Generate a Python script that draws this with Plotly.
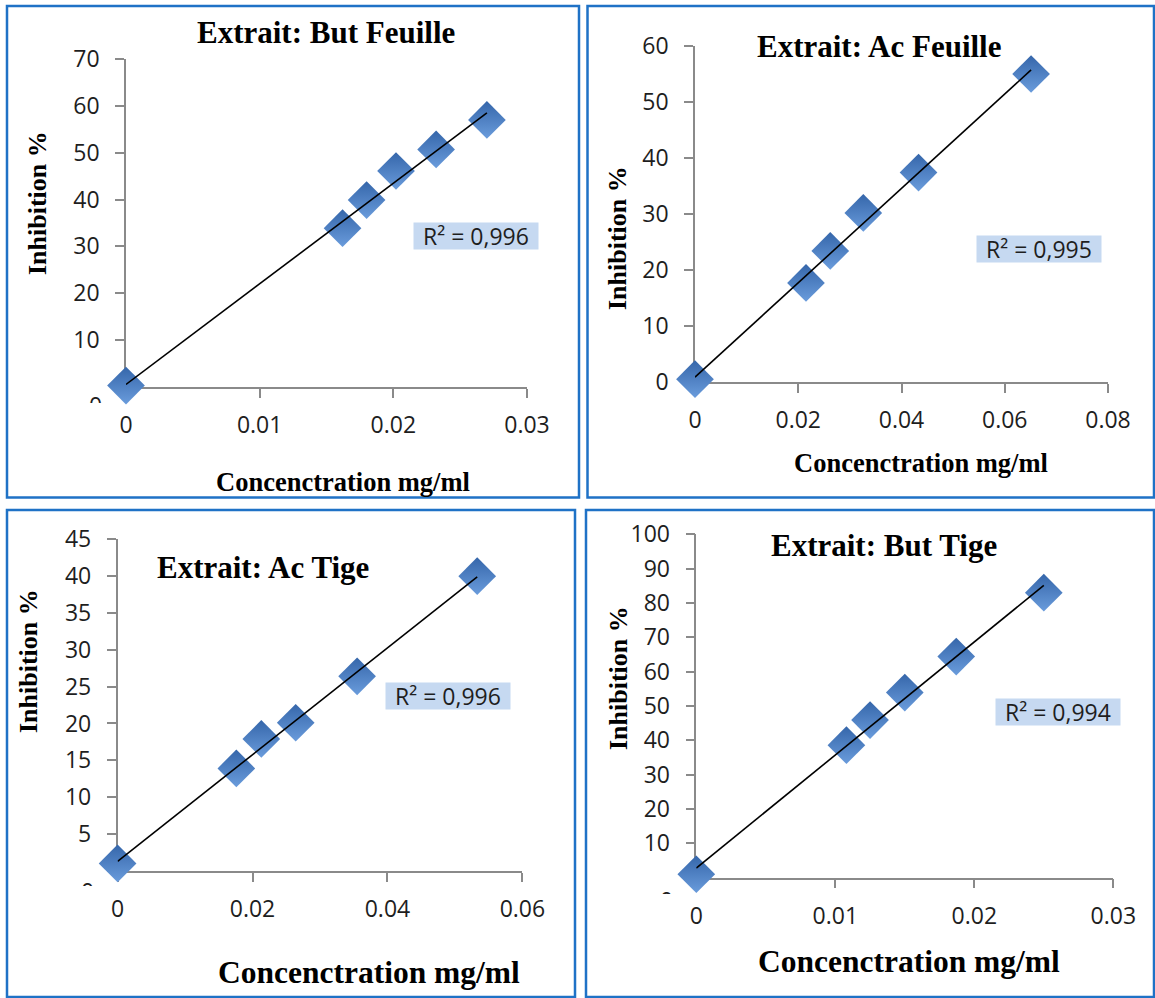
import numpy as np
import plotly.graph_objects as go

W, H = 1155, 998

# ---- data -------------------------------------------------------------
titles = ["Extrait: But Feuille", "Extrait: Ac Feuille", "Extrait: Ac Tige", "Extrait: But Tige"]
r2_labels = ["R² = 0,996", "R² = 0,995", "R² = 0,996", "R² = 0,994"]

but_feuille_conc = [0, 0.0162, 0.0180, 0.0202, 0.0232, 0.0270]
but_feuille_inh = [0.3, 33.9, 39.9, 46.1, 50.7, 57.0]

ac_feuille_conc = [0, 0.0215, 0.0262, 0.0326, 0.0433, 0.0651]
ac_feuille_inh = [0.5, 17.7, 23.4, 30.2, 37.4, 55.0]

ac_tige_conc = [0, 0.0176, 0.0213, 0.0264, 0.0355, 0.0533]
ac_tige_inh = [1.0, 13.9, 17.9, 20.1, 26.4, 40.0]

but_tige_conc = [0, 0.0108, 0.0125, 0.0150, 0.0187, 0.0250]
but_tige_inh = [1.0, 38.6, 45.9, 53.9, 64.4, 83.0]

x_ticks_1 = [0, 0.01, 0.02, 0.03]
x_ticks_2 = [0, 0.02, 0.04, 0.06, 0.08]
x_ticks_3 = [0, 0.02, 0.04, 0.06]
x_ticks_4 = [0, 0.01, 0.02, 0.03]
x_text_1 = ["0", "0.01", "0.02", "0.03"]
x_text_2 = ["0", "0.02", "0.04", "0.06", "0.08"]
x_text_3 = ["0", "0.02", "0.04", "0.06"]
x_text_4 = ["0", "0.01", "0.02", "0.03"]

y_ticks_1 = [0, 10, 20, 30, 40, 50, 60, 70]
y_ticks_2 = [0, 10, 20, 30, 40, 50, 60]
y_ticks_3 = [0, 5, 10, 15, 20, 25, 30, 35, 40, 45]
y_ticks_4 = [0, 10, 20, 30, 40, 50, 60, 70, 80, 90, 100]

panels = [
    dict(x=but_feuille_conc, y=but_feuille_inh, xt=x_ticks_1, xl=x_text_1, yt=y_ticks_1, zero_clipped=True),
    dict(x=ac_feuille_conc, y=ac_feuille_inh, xt=x_ticks_2, xl=x_text_2, yt=y_ticks_2, zero_clipped=False),
    dict(x=ac_tige_conc, y=ac_tige_inh, xt=x_ticks_3, xl=x_text_3, yt=y_ticks_3, zero_clipped=True),
    dict(x=but_tige_conc, y=but_tige_inh, xt=x_ticks_4, xl=x_text_4, yt=y_ticks_4, zero_clipped=True),
]

# ---- layout geometry (pixels) ------------------------------------------
# plot area: left, right, bottom, top
plot_px = [(126, 527, 387, 59), (695, 1108, 382, 46), (117.6, 522.4, 870.8, 539.3), (696.3, 1113.3, 877.7, 534.3)]
frame_px = [(7, 579, 6, 497.5), (587.5, 1154, 6, 497.5), (7, 575, 510, 997), (586, 1154, 510, 997)]
title_px = [(326, 32), (879, 47), (263, 567), (884, 545)]
xtitle_px = [(343, 482, 26.5), (921, 463, 26.5), (369, 972, 31.5), (909, 961, 31.5)]
ytitle_px = [(37, 203), (617, 238), (28, 661), (618, 678)]
r2_px = [(476, 236), (1038.5, 249), (448, 696), (1058, 712)]
# visible top part of the bottom y label: centre x, box top, box height
zero_px = [(95, 388, 14), None, (87, 874, 11), (666, 883, 10)]


def px(x):
    return x / W


def py(y):
    return 1 - y / H


TICK_FONT = dict(family="Open Sans", size=23, color="#1e1e1e")
SERIF_BOLD = "Liberation Serif"
AXIS_GREY = "#8a8a8a"


def text_at(text, x, y, font, **extra):
    return dict(text=text, x=px(x), y=py(y), xref="paper", yref="paper",
                xanchor="center", yanchor="middle", showarrow=False, font=font, **extra)


fig = go.Figure()
annotations = []
shapes = []

for i, p in enumerate(panels):
    n = i + 1
    xa = "x" if n == 1 else f"x{n}"
    ya = "y" if n == 1 else f"y{n}"
    l, r, b, t = plot_px[i]

    # linear trend line fitted on the measured points
    xs = np.array(p["x"], dtype=float)
    ys = np.array(p["y"], dtype=float)
    slope, intercept = np.polyfit(xs, ys, 1)
    fx = np.array([xs.min(), xs.max()])
    fig.add_trace(go.Scatter(
        x=p["x"], y=p["y"], mode="markers", xaxis=xa, yaxis=ya,
        marker=dict(symbol="diamond", size=29, color="#3566aa",
                    gradient=dict(type="vertical", color="#6a9cdc"),
                    line=dict(width=0)),
        cliponaxis=False, showlegend=False, hoverinfo="skip"))
    fig.add_trace(go.Scatter(
        x=fx, y=slope * fx + intercept, mode="lines", xaxis=xa, yaxis=ya,
        line=dict(color="black", width=1.6), cliponaxis=False,
        showlegend=False, hoverinfo="skip"))

    y_text = [("" if (v == 0 and p["zero_clipped"]) else str(v)) for v in p["yt"]]
    common = dict(showline=True, linecolor=AXIS_GREY, linewidth=1.5, ticks="outside",
                  ticklen=9, tickcolor=AXIS_GREY, tickwidth=1.5, showgrid=False,
                  zeroline=False, tickfont=TICK_FONT, layer="below traces",
                  fixedrange=True, automargin=False)
    fig.layout[f"xaxis{'' if n == 1 else n}"] = dict(
        domain=[px(l), px(r)], range=[p["xt"][0], p["xt"][-1]], anchor=ya,
        tickvals=p["xt"], ticktext=p["xl"], ticklabelstandoff=8, **common)
    fig.layout[f"yaxis{'' if n == 1 else n}"] = dict(
        domain=[py(b), py(t)], range=[p["yt"][0], p["yt"][-1]], anchor=xa,
        tickvals=p["yt"], ticktext=y_text, ticklabelstandoff=11, **common)

    # panel frame
    fl, fr, ft, fb = frame_px[i]
    shapes.append(dict(type="rect", xref="paper", yref="paper",
                       x0=px(fl), x1=px(fr), y0=py(fb), y1=py(ft),
                       line=dict(color="#1f72c6", width=2.5), fillcolor="rgba(0,0,0,0)"))

    # chart title
    tx, ty = title_px[i]
    annotations.append(text_at(f"<b>{titles[i]}</b>", tx, ty,
                               dict(family=SERIF_BOLD, size=31, color="black")))
    # axis titles
    ax, ay, asz = xtitle_px[i]
    annotations.append(text_at("<b>Concenctration mg/ml</b>", ax, ay,
                               dict(family=SERIF_BOLD, size=asz, color="black")))
    yx, yy = ytitle_px[i]
    annotations.append(text_at("<b>Inhibition %</b>", yx, yy,
                               dict(family=SERIF_BOLD, size=26, color="black"), textangle=-90))
    # R² label
    rx, ry = r2_px[i]
    annotations.append(text_at(r2_labels[i], rx, ry,
                               dict(family="Open Sans", size=23, color="#1e1e1e"),
                               bgcolor="#c6d9f1", width=124, height=26, borderpad=0))
    # bottom y label cut off by the chart edge
    if zero_px[i] is not None:
        zx, zy, zh = zero_px[i]
        annotations.append(dict(text="0", x=px(zx), y=py(zy), xref="paper", yref="paper",
                                xanchor="center", yanchor="top", valign="top", height=zh,
                                showarrow=False, borderpad=0, font=TICK_FONT))

fig.update_layout(width=W, height=H, margin=dict(l=0, r=0, t=0, b=0, autoexpand=False),
                  paper_bgcolor="white", plot_bgcolor="white",
                  annotations=annotations, shapes=shapes)

fig.write_html("out.html")
